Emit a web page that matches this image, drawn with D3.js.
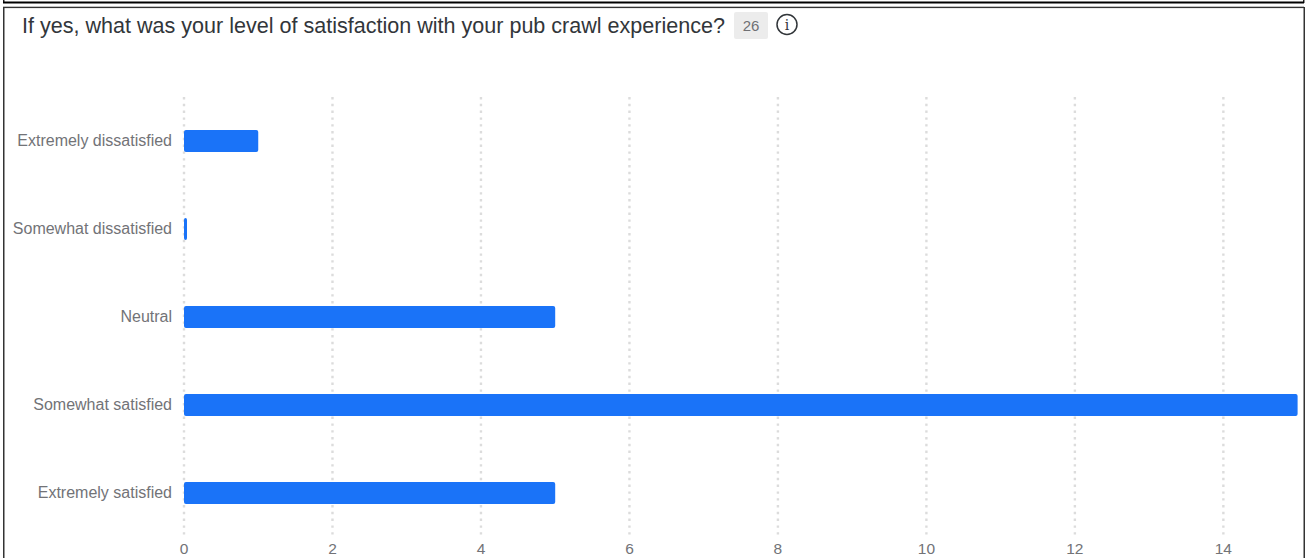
<!DOCTYPE html>
<html><head><meta charset="utf-8">
<script src="https://cdn.jsdelivr.net/npm/d3@7/dist/d3.min.js"></script>
<style>html,body{margin:0;padding:0;background:#fff;overflow:hidden}svg{display:block}</style>
</head><body><svg id="c" width="1307" height="558"></svg>
<script>
const categories = ["Extremely dissatisfied","Somewhat dissatisfied","Neutral","Somewhat satisfied","Extremely satisfied"];
const counts = [1,0,5,15,5];
const tickValues = [0,2,4,6,8,10,12,14];
const titleText = "If yes, what was your level of satisfaction with your pub crawl experience?";
const responseCount = "26";
const font = "'Liberation Sans', Arial, sans-serif";

const svg = d3.select("#c");
// frame
svg.append("rect").attr("x",3).attr("y",0).attr("width",1.5).attr("height",3).attr("fill","#222");
svg.append("rect").attr("x",1303).attr("y",0).attr("width",1.5).attr("height",3).attr("fill","#222");
svg.append("rect").attr("x",3).attr("y",1.5).attr("width",1301).attr("height",2).attr("fill","#000");
svg.append("rect").attr("x",3).attr("y",6.7).attr("width",1301).attr("height",1.4).attr("fill","#333");
svg.append("rect").attr("x",3).attr("y",7).attr("width",1.5).attr("height",551).attr("fill","#333");
svg.append("rect").attr("x",1303.5).attr("y",7).attr("width",1.5).attr("height",551).attr("fill","#333");

const x = d3.scaleLinear().domain([0,15]).range([184,1297.6]);
const y = d3.scalePoint().domain(categories).range([141,493]);

svg.append("g").selectAll("line").data(tickValues).join("line")
  .attr("x1",d=>x(d)).attr("x2",d=>x(d)).attr("y1",97).attr("y2",538)
  .attr("stroke","#dcdcdc").attr("stroke-width",2.4).attr("stroke-dasharray","2.4 4.4");

svg.append("g").selectAll("rect").data(categories).join("rect")
  .attr("x",x(0)).attr("y",d=>y(d)-11).attr("height",22)
  .attr("width",(d,i)=>Math.max(x(counts[i])-x(0),3)).attr("rx",2)
  .attr("fill","#1a73f8");

svg.append("g").selectAll("text").data(categories).join("text")
  .attr("x",172).attr("y",d=>y(d)+5.3).attr("text-anchor","end")
  .attr("font-family",font).attr("font-size",16).attr("fill","#727377").text(d=>d);

svg.append("g").selectAll("text").data(tickValues).join("text")
  .attr("x",d=>x(d)).attr("y",554).attr("text-anchor","middle")
  .attr("font-family",font).attr("font-size",15.5).attr("fill","#727377").text(d=>d);

svg.append("text").attr("x",22).attr("y",32.5).attr("font-family",font).attr("font-size",21.55)
  .attr("fill","#32363a").text(titleText);
svg.append("rect").attr("x",734).attr("y",12).attr("width",34).attr("height",27).attr("rx",2).attr("fill","#ececec");
svg.append("text").attr("x",751).attr("y",31).attr("text-anchor","middle").attr("font-family",font).attr("font-size",15)
  .attr("fill","#6f7074").text(responseCount);
svg.append("circle").attr("cx",787).attr("cy",24.5).attr("r",10).attr("fill","none").attr("stroke","#32363a").attr("stroke-width",1.5);
svg.append("text").attr("x",787).attr("y",30).attr("text-anchor","middle").attr("font-family","'DejaVu Serif', serif").attr("font-size",14)
  .attr("fill","#32363a").text("i");
</script></body></html>
